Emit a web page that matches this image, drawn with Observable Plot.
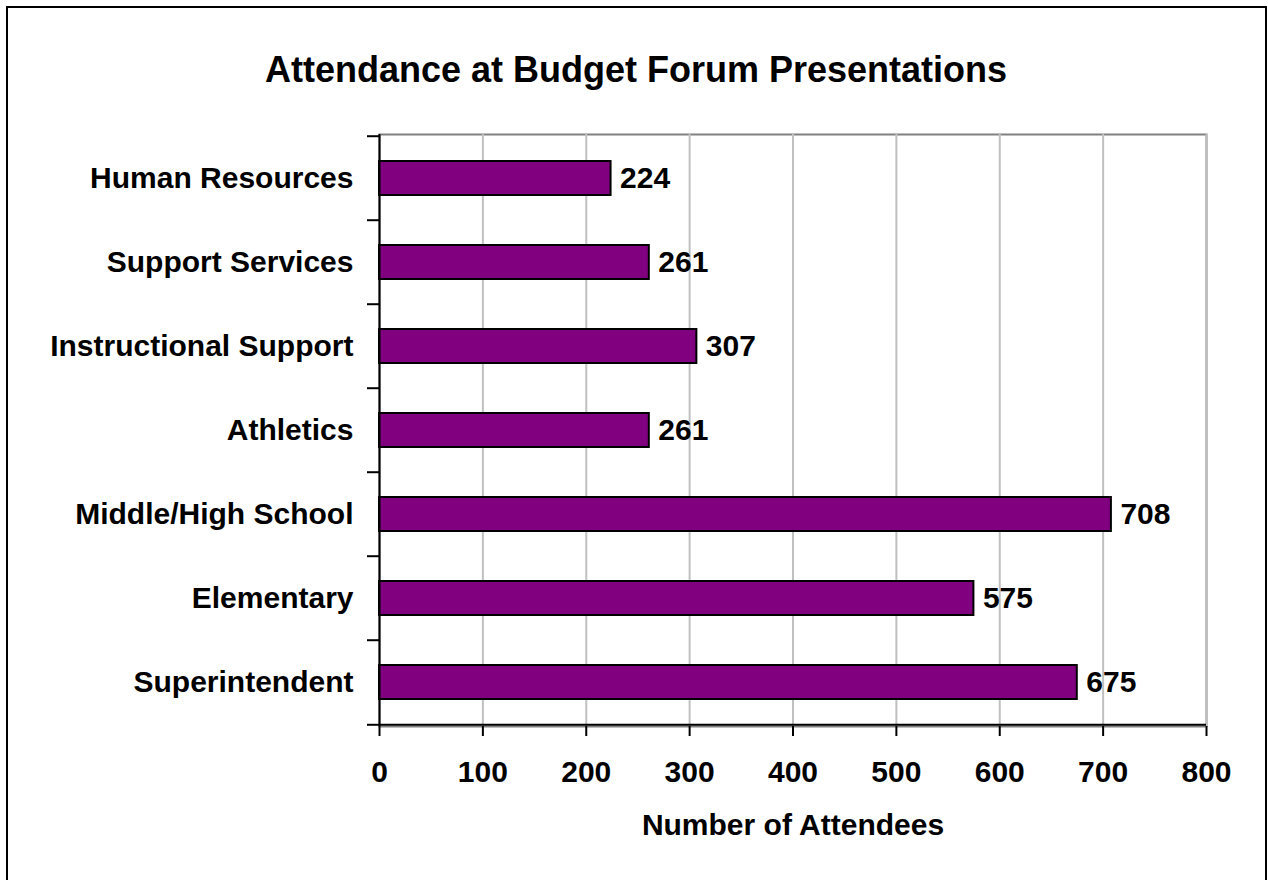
<!DOCTYPE html>
<html>
<head>
<meta charset="utf-8">
<script src="https://cdn.jsdelivr.net/npm/d3@7"></script>
<script src="https://cdn.jsdelivr.net/npm/@observablehq/plot@0.6"></script>
<style>
  body { margin: 0; background: #fff; }
  #wrap { position: relative; width: 1268px; height: 880px; overflow: hidden; font-family: "Liberation Sans", Arial, sans-serif; background: #fff; }
  #title { box-sizing: border-box; height: 100px; padding-top: 52px; line-height: 36px; font-size: 36px; font-weight: bold; text-align: center; width: 1272px; color: #000; }
  #border { position: absolute; left: 6px; top: 6px; width: 1261px; height: 920px; border: 2px solid #000; box-sizing: border-box; pointer-events: none; }
  #chart svg { display: block; }
</style>
</head>
<body>
<div id="wrap">
  <div id="title">Attendance at Budget Forum Presentations</div>
  <div id="chart"></div>
  <div id="border"></div>
</div>
<script>
const categories = ["Human Resources", "Support Services", "Instructional Support", "Athletics", "Middle/High School", "Elementary", "Superintendent"];
const attendees = [224, 261, 307, 261, 708, 575, 675];
const xTicks = [0, 100, 200, 300, 400, 500, 600, 700, 800];
const xTitle = "Number of Attendees";

const data = categories.map((c, i) => ({category: c, value: attendees[i]}));

const W = 1268, H = 780, mt = 34, mb = 154, ml = 379, mr = 62;
const step = (H - mt - mb) / categories.length;
const last = categories[categories.length - 1];

const chart = Plot.plot({
  width: W,
  height: H,
  marginTop: mt,
  marginBottom: mb,
  marginLeft: ml,
  marginRight: mr,
  style: {fontFamily: "'Liberation Sans', Arial, sans-serif", fontSize: "30px", fontWeight: "bold", color: "#000", background: "transparent", overflow: "visible"},
  x: {domain: [0, 800]},
  y: {domain: categories, padding: 0},
  marks: [
    Plot.frame({stroke: "#808080", strokeWidth: 2}),
    Plot.gridX(xTicks, {stroke: "#c0c0c0", strokeOpacity: 1, strokeWidth: 2}),
    Plot.barX(data, {x: "value", y: "category", fill: "#800080", stroke: "#000", strokeWidth: 2, insetTop: 25, insetBottom: 25}),
    Plot.ruleX([0], {stroke: "#000", strokeWidth: 2}),
    Plot.ruleY([last], {dy: step / 2, stroke: "#000", strokeWidth: 2}),
    Plot.axisY({tickSize: 0, tickPadding: 26, label: null, fontSize: 30, fontWeight: "bold"}),
    Plot.axisY(categories, {tickSize: 12, tickFormat: () => "", label: null, dy: -step / 2, strokeWidth: 2}),
    Plot.axisY([last], {tickSize: 12, tickFormat: () => "", label: null, dy: step / 2, strokeWidth: 2}),
    Plot.axisX({ticks: xTicks, tickSize: 10, tickPadding: 24, label: null, strokeWidth: 2, fontSize: 30, fontWeight: "bold"}),
    Plot.text(data, {x: "value", y: "category", text: d => String(d.value), textAnchor: "start", dx: 9, fontSize: 30, fontWeight: "bold", fill: "#000"}),
    Plot.text([xTitle], {frameAnchor: "bottom", lineAnchor: "middle", dy: 99, fontSize: 30, fontWeight: "bold", fill: "#000"})
  ]
});
document.getElementById("chart").appendChild(chart);
</script>
</body>
</html>
